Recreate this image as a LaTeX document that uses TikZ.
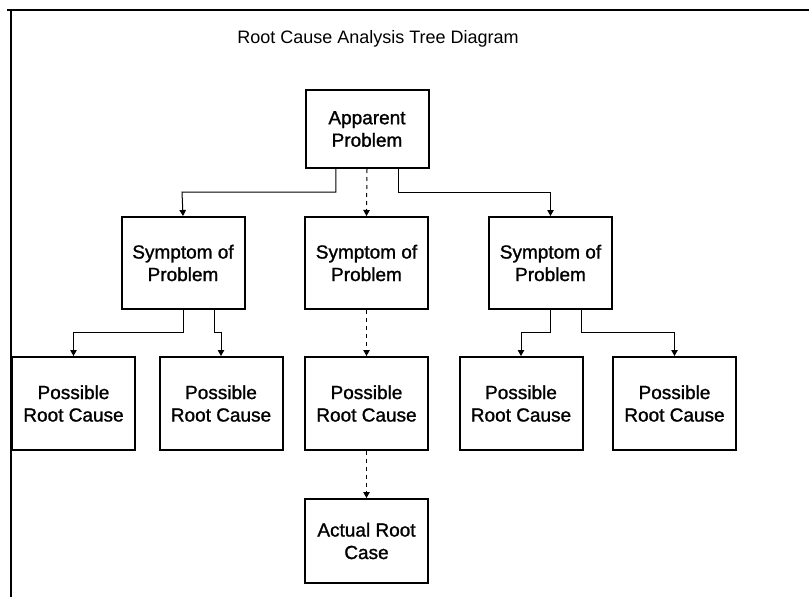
\documentclass[tikz,border=0pt]{standalone}
\usepackage{fontspec}
\setmainfont{Liberation Sans}
\newfontfamily\boxfont{Liberation Sans}[FakeBold=1.2]
\usetikzlibrary{arrows.meta,calc}
\begin{document}
\begin{tikzpicture}[x=1pt,y=-1pt,
  box/.style={draw,line width=2pt,minimum width=123pt,inner sep=0pt,
    align=center,font=\boxfont\fontsize{19}{22.5}\selectfont},
  link/.style={line width=1pt,-{Triangle[length=6pt,width=6.5pt]}},
  dlink/.style={link,dash pattern=on 4pt off 4pt}]
\useasboundingbox (0,0) rectangle (809,597);
% open frame around the page
\draw[line width=1.2pt] (7,10) -- (812,10);
\draw[line width=1.2pt] (11,10) -- (11,600);
% title
\node[anchor=base,font=\fontsize{18}{20}\selectfont] (title) at (378,43) {Root Cause Analysis Tree Diagram};
% nodes
\node[box,minimum height=78pt] (a) at (367,129) {Apparent\\Problem};
\node[box,minimum height=92pt] (s1) at (183,263) {Symptom of\\Problem};
\node[box,minimum height=92pt] (s2) at (366.5,263) {Symptom of\\Problem};
\node[box,minimum height=92pt] (s3) at (550.5,263) {Symptom of\\Problem};
\node[box,minimum height=93pt] (p1) at (73.5,403.5) {Possible\\Root Cause};
\node[box,minimum height=93pt] (p2) at (221,403.5) {Possible\\Root Cause};
\node[box,minimum height=93pt] (p3) at (366.5,403.5) {Possible\\Root Cause};
\node[box,minimum height=93pt] (p4) at (521,403.5) {Possible\\Root Cause};
\node[box,minimum height=93pt] (p5) at (674.5,403.5) {Possible\\Root Cause};
\node[box,minimum height=84pt] (r) at (366.5,541) {Actual Root\\Case};
% connectors from the apparent problem
\coordinate (aL) at ($(a.south west)!0.25!(a.south east)$);
\coordinate (aR) at ($(a.south west)!0.75!(a.south east)$);
\draw[link] (aL) |- (182,192) -- (s1.north);
\draw[link] (aR) |- (550.5,192) -- (s3.north);
\draw[dlink] (a.south) -- (s2.north);
% connectors from the symptoms
\coordinate (s1R) at ($(s1.south west)!0.75!(s1.south east)$);
\coordinate (s3R) at ($(s3.south west)!0.75!(s3.south east)$);
\draw[link] (s1.south) |- (p1.north |- 0,332) -- (p1.north);
\draw[link] (s1R) |- (p2.north |- 0,332) -- (p2.north);
\draw[link] (s3.south) |- (p4.north |- 0,332) -- (p4.north);
\draw[link] (s3R) |- (p5.north |- 0,332) -- (p5.north);
\draw[dlink] (s2.south) -- (p3.north);
\draw[dlink] (p3.south) -- (r.north);
\end{tikzpicture}
\end{document}
